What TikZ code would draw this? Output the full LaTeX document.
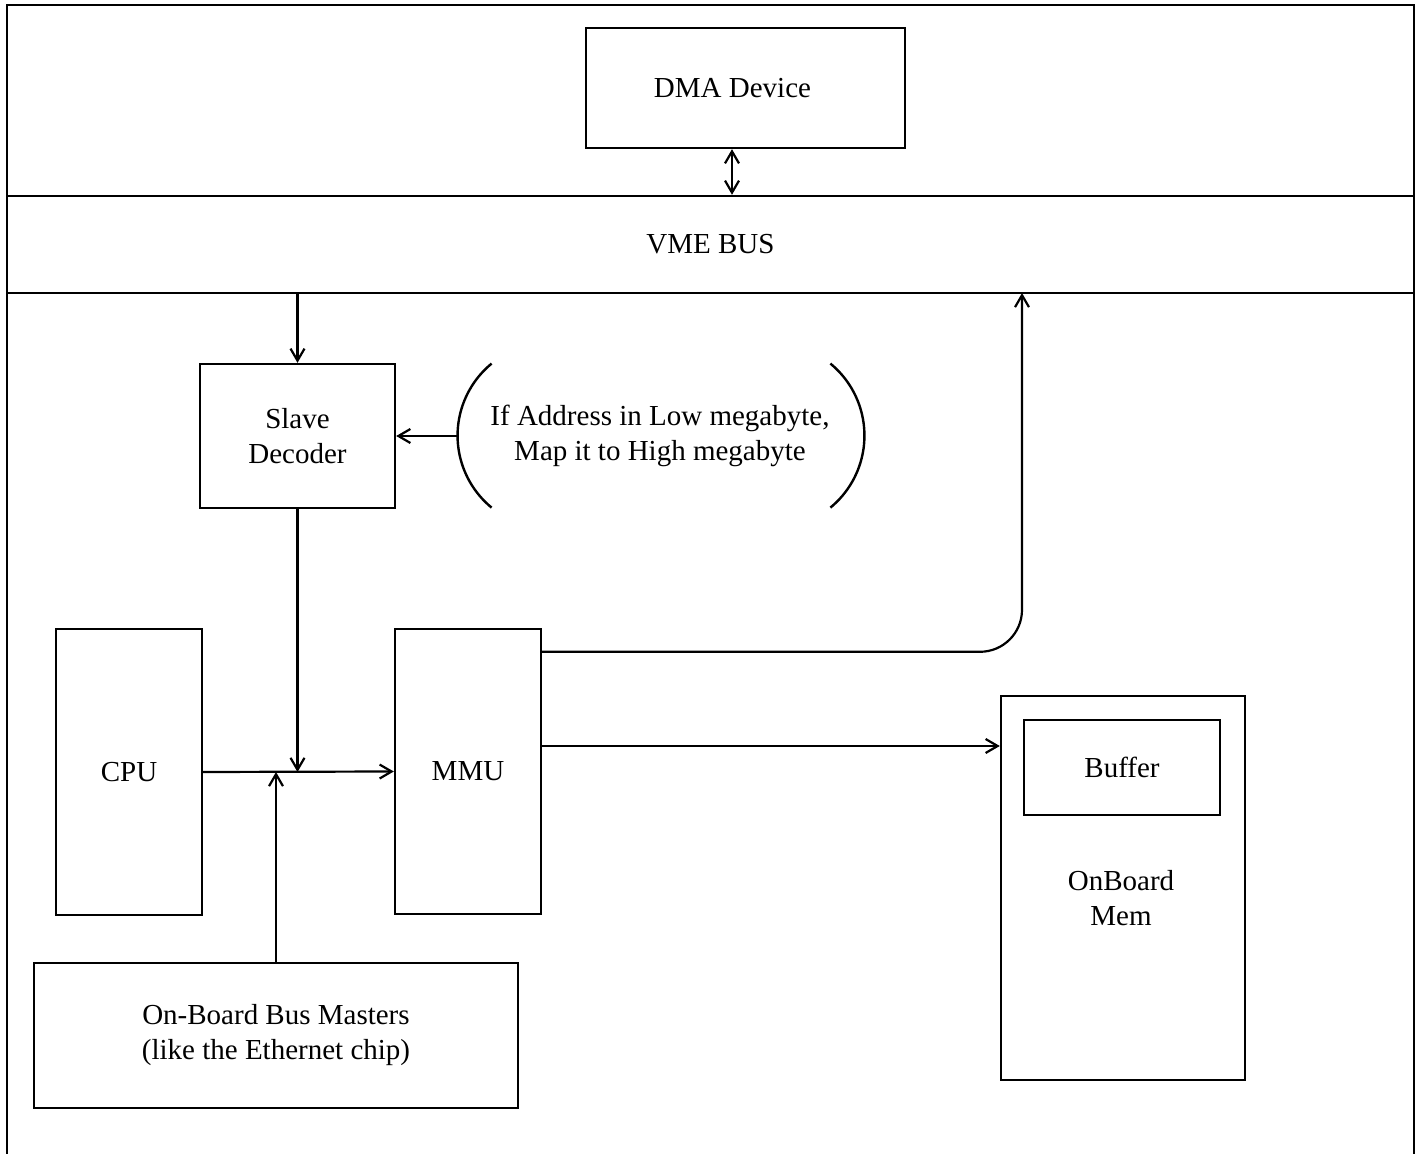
\documentclass[tikz,border=0pt]{standalone}
\usepackage{fontspec}
\setmainfont{Liberation Serif}
\usepackage{tikz}
\usetikzlibrary{calc,arrows.meta}
\tikzset{
  box/.style={draw, line width=1.2pt, align=center, inner sep=0pt},
  wire/.style={line width=1.1pt, >={Straight Barb[length=6pt,width=7pt]}}
}

\begin{document}
\begin{tikzpicture}[x=0.5pt,y=-0.5pt,font=\fontsize{14.5}{17.5}\selectfont]
            \useasboundingbox (0,0) rectangle (1421,1154);
            \draw[line width=1.2pt] (7,1154)--(7,5)--(1414,5)--(1414,1154);
            \node[box, minimum width=159.5pt, minimum height=60pt] (dma) at (745.5,88) {DMA Device\hspace{13pt}};
            \node[box, minimum width=703.5pt, minimum height=48.5pt] (vme) at (710.5,244.5) {VME BUS};
            \node[box, minimum width=97.5pt, minimum height=72pt] (slave) at (297.5,436) {Slave\\Decoder};
            \node[align=center, inner sep=0pt, minimum width=202pt, minimum height=72pt] (cond) at (660,436) {If Address in Low megabyte,\\Map it to High megabyte};
            \node[box, minimum width=73pt, minimum height=143pt] (cpu) at (129,772) {CPU};
            \node[box, minimum width=73pt, minimum height=142.5pt] (mmu) at (468,771.5) {MMU};
            \node[box, minimum width=242pt, minimum height=72.5pt] (masters) at (276,1035.5) {On-Board Bus Masters\\(like the Ethernet chip)};
            \node[box, minimum width=122pt, minimum height=192pt] (mem) at (1123,888) {};
            \node[align=center] (memlabel) at (1121,898) {OnBoard\\Mem};
            \node[box, minimum width=98pt, minimum height=47.5pt] (buffer) at (1122,767.5) {Buffer};
            \coordinate (up) at (1022,293);
            % parentheses round the mapping rule
            \draw[line width=1.2pt] ([xshift=17pt]cond.north west) arc[start angle=129.4, end angle=230.6, radius=46.6pt];
            \draw[line width=1.2pt] ([xshift=-16pt]cond.north east) arc[start angle=50.6, end angle=-50.6, radius=46.6pt];
            % connectors
            \draw[wire,<->] ([xshift=-6.75pt]dma.south) -- ([xshift=-6.75pt]dma.south |- vme.north);
            \draw[wire,->] (slave.north |- vme.south) -- (slave.north);
            \draw[wire,->] (cond.west) -- (slave.east);
            \draw[wire,->] (slave.south) -- (slave.south |- cpu.east);
            \draw[wire,->] (cpu.east) -- (mmu.west);
            \draw[wire,->] (masters.north) -- (masters.north |- cpu.east);
            \draw[wire,->, rounded corners=21pt] ([yshift=-12pt]mmu.north east) -| (up);
            \draw[wire,->] ([yshift=12.75pt]mmu.east) -- ([yshift=12.75pt]mmu.east -| mem.west);
        \end{tikzpicture}
\end{document}
